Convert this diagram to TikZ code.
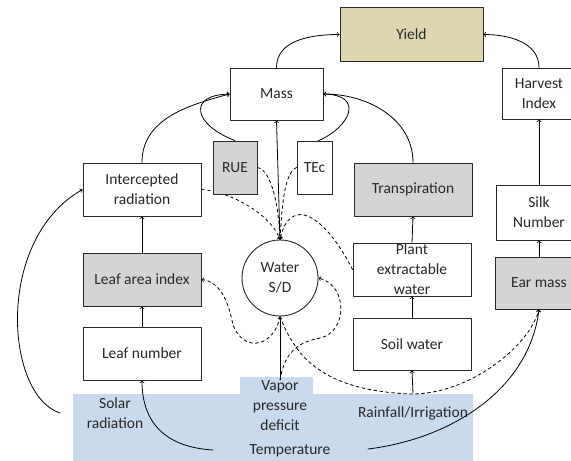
\documentclass[tikz,border=0pt]{standalone}
\usepackage{fontspec}
\setmainfont{Carlito}
\usetikzlibrary{backgrounds}
\definecolor{boxgray}{RGB}{212,212,212}
\definecolor{yieldtan}{RGB}{221,214,174}
\definecolor{skyblue}{RGB}{201,217,238}
\definecolor{inkgray}{RGB}{40,40,40}
\begin{document}
\begin{tikzpicture}[x=1pt, y=1pt, font=\fontsize{15.5}{20}\selectfont, line join=round, line cap=round, >=to,
	box/.style={draw=inkgray, line width=0.9pt, fill=white, align=center, minimum width=118pt, minimum height=53pt, inner sep=1pt, text=inkgray},
	grey/.style={box, fill=boxgray},
	lbl/.style={align=center, text=inkgray, inner sep=1pt},
	link/.style={->, line width=0.8pt},
	dlink/.style={link, dashed}]
	\useasboundingbox (0,0) rectangle (571,-461);
	\clip (0,0) rectangle (571,-461);
	% climate band
	\fill[skyblue] (73,-394) -- (240,-394) -- (240,-377) -- (313,-377) -- (313,-394) -- (473,-394) -- (473,-461) -- (73,-461) -- cycle;
	% boxes
	\node[box, minimum width=143pt, minimum height=54pt, fill=yieldtan] (yield) at (411.5,-34.5) {Yield};
	\node[box, minimum width=93pt, minimum height=52pt] (mass) at (276.5,-94) {Mass};
	\node[box, minimum width=74pt, minimum height=51pt] (harvest) at (539,-93.5) {Harvest\\Index};
	\node[grey, minimum width=44pt] (rue) at (235,-167.5) {RUE};
	\node[box, minimum width=35pt] (tec) at (314.5,-167.5) {TEc};
	\node[box] (intrad) at (142,-189.5) {Intercepted\\radiation};
	\node[grey] (transp) at (413,-189.5) {Transpiration};
	\node[box, minimum width=86pt, minimum height=55pt] (silk) at (539,-212.5) {Silk\\Number};
	\node[grey] (lai) at (142,-279.5) {Leaf area index};
	\node[draw=inkgray, line width=0.9pt, fill=white, circle, minimum size=76pt, align=center, inner sep=0pt, text=inkgray] (water) at (280,-278) {Water\\S/D};
	\node[box] (pew) at (412,-269.5) {Plant\\extractable\\water};
	\node[box] (leafnum) at (142,-353.5) {Leaf number};
	\node[box, minimum height=52pt] (soil) at (412,-344) {Soil water};
	\node[grey, minimum width=88pt, minimum height=52pt] (ear) at (539,-283) {Ear mass};
	% drivers
	\node[lbl] (solar) at (115,-413) {Solar\\radiation};
	\node[lbl] (vpd) at (280,-406) {Vapor\\pressure\\deficit};
	\node[lbl] (temp) at (290,-451) {Temperature};
	\node[lbl] (rain) at (413,-413) {Rainfall/Irrigation};
	\coordinate (solarbeg) at (60,-413);
	\coordinate (tempbeg) at (213,-450);
	\coordinate (tempend) at (368,-449);
	% solid links
	\draw[link] (mass.north) to[out=90, in=180] (yield.west);
	\draw[link] (harvest.north) to[out=90, in=0] (yield.east);
	\draw[link] (intrad.north) to[out=90, in=195] (mass.west);
	\draw[link] (rue.north) .. controls +(-42,16) and +(-42,-1) .. (mass.west);
	\draw[link] ([xshift=4pt]tec.north) .. controls +(31,13) and +(42,-1) .. (mass.east);
	\draw[link] (transp.north) to[out=90, in=0] (mass.east);
	\draw[link] (water.north) -- (mass.south);
	\draw[link] (lai.north) -- (intrad.south);
	\draw[link] (leafnum.north) -- (lai.south);
	\draw[link] (pew.north) -- (transp.south);
	\draw[link] (soil.north) -- (pew.south);
	\draw[link] ([yshift=12pt]rain.north) -- (soil.south);
	\draw[link] (silk.north) -- (harvest.south);
	\draw[link] (ear.north) -- (silk.south);
	\draw[link] (vpd.north) -- (water.south);
	\draw[link] (solarbeg) .. controls +(-55,18) and +(-88,-50) .. (intrad.west);
	\draw[link] (tempbeg) .. controls +(-50,3) and +(0,-40) .. (leafnum.south);
	\draw[link] (tempend) .. controls +(82,10) and +(-10,-81) .. (ear.south);
	% dashed links
	\begin{pgfonlayer}{background}
		\draw[dlink] (intrad.east) .. controls +(29,-2) and +(-9,25) .. (water.north);
	\end{pgfonlayer}
	\draw[dlink] (rue.east) .. controls +(15,-3) and +(-1,30) .. (water.north);
	\draw[dlink] (tec.west) .. controls +(-12,-5) and +(2,35) .. (water.north);
	\draw[dlink] (pew.west) .. controls +(-28,55) and +(10,45) .. (water.north);
	\draw[dlink] (water.south) .. controls (275,-345) and (245,-355) .. (233,-325) .. controls (229,-305) and (222,-282) .. (lai.east);
	\draw[dlink] (vpd.north) .. controls (285,-350) and (300,-342) .. (320,-338) .. controls (348,-332) and (348,-285) .. (water.east);
	\draw[dlink] (water.south) .. controls (295,-355) and (320,-390) .. (410,-394) .. controls (470,-395) and (530,-345) .. (ear.south);
\end{tikzpicture}
\end{document}
